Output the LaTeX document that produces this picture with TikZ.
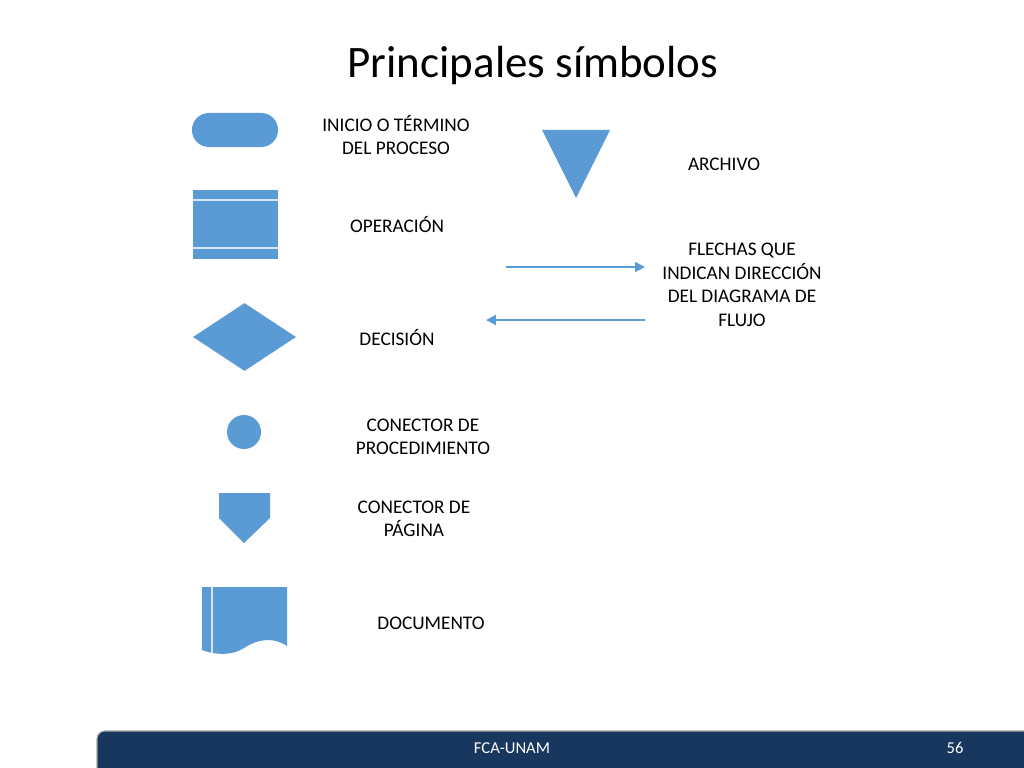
\documentclass[tikz,border=0pt]{standalone}
\usepackage{fontspec}
\setmainfont{Carlito}
\usetikzlibrary{arrows.meta, shapes.geometric}
\definecolor{symblue}{HTML}{5B9BD5}
\definecolor{barblue}{HTML}{17375E}
\tikzset{
  symbol/.style={fill=symblue, draw=none, inner sep=0pt},
  lbl/.style={align=center, font=\fontsize{13.7}{16.7}\selectfont, inner sep=0pt},
  flow/.style={draw=symblue, line width=1.1pt, -{Triangle[length=7pt,width=7pt]}},
}

\begin{document}
\begin{tikzpicture}[x=0.025cm, y=-0.025cm]
    \useasboundingbox (0,0) rectangle (1024,768);

    \coordinate (F1) at (506,267);
    \coordinate (F2) at (645,267);
    \coordinate (F3) at (645,320);
    \coordinate (F4) at (486,320);

    \node[anchor=base, font=\fontsize{32}{38}\selectfont] (titulo) at (533,78) {Principales símbolos};

    % simbolos
    \node[symbol, rounded corners=0.42cm, minimum width=2.15cm, minimum height=0.85cm] (inicio) at (235,130) {};
    \node[symbol, minimum width=2.125cm, minimum height=1.725cm] (operacion) at (235.5,224.5) {};
    \draw[white!75!symblue, line width=0.8pt] (193,200) -- (278,200);
    \draw[white!75!symblue, line width=0.8pt] (193,248) -- (278,248);
    \node[symbol, diamond, minimum width=2.575cm, minimum height=1.7cm] (decision) at (244.5,337) {};
    \node[symbol, circle, minimum size=0.85cm] (conector) at (244,432) {};
    \fill[symblue] (219,493) -- (270,493) -- (270,518) -- (244,543) -- (219,518) -- cycle;
    \fill[symblue] (202,587) -- (287,587) -- (287,646)
        .. controls (272,636) and (256,640) .. (244,648)
        .. controls (232,656) and (215,655) .. (202,650) -- cycle;
    \draw[white!75!symblue, line width=0.8pt] (212,587) -- (212,653);
    \fill[symblue] (542,130) -- (610,130) -- (576,198) -- cycle;

    \draw[flow] (F1) -- (F2);
    \draw[flow] (F3) -- (F4);

    \node[lbl] (l1) at (396,135) {INICIO O TÉRMINO\\DEL PROCESO};
    \node[lbl] (l2) at (397,225) {OPERACIÓN};
    \node[lbl] (l3) at (397,338) {DECISIÓN};
    \node[lbl] (l4) at (423,437) {CONECTOR DE\\PROCEDIMIENTO};
    \node[lbl] (l5) at (414,519) {CONECTOR DE\\PÁGINA};
    \node[lbl] (l6) at (431,623) {DOCUMENTO};
    \node[lbl] (l7) at (724,164) {ARCHIVO};
    \node[lbl] (l8) at (742,285) {FLECHAS QUE\\INDICAN DIRECCIÓN\\DEL DIAGRAMA DE\\FLUJO};

    % pie
    \draw[fill=barblue, draw=gray!70, line width=0.8pt, rounded corners=0.2cm] (97,731) rectangle (1045,790);
    \node[text=white, font=\fontsize{11.8}{14}\selectfont] (pie) at (512,748) {FCA-UNAM};
    \node[text=white, font=\fontsize{11.8}{14}\selectfont] (pagina) at (955,748) {56};
\end{tikzpicture}
\end{document}
